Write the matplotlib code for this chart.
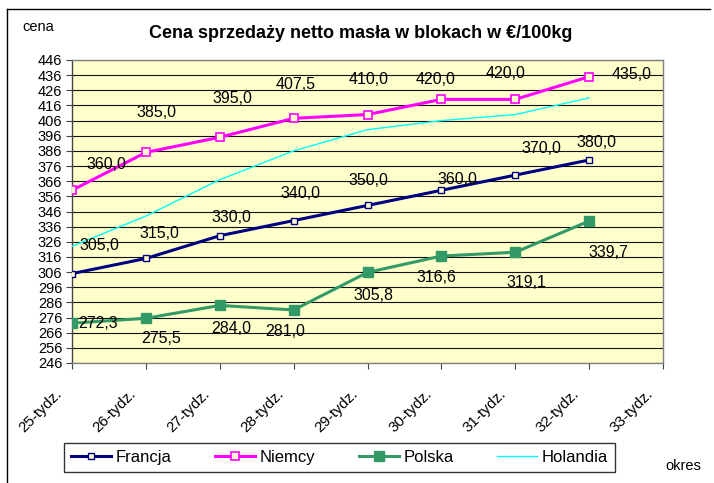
"""
Cena sprzedazy netto masla w blokach - wykres liniowy (tygodnie 25-33).
"""

import numpy as np
import matplotlib
matplotlib.use('Agg')
import matplotlib.pyplot as plt
from matplotlib.lines import Line2D
from matplotlib.transforms import ScaledTranslation

matplotlib.rc('font', family='Liberation Sans', size=10.5)

# data
weeks = ['25-tydz.', '26-tydz.', '27-tydz.', '28-tydz.', '29-tydz.',
         '30-tydz.', '31-tydz.', '32-tydz.', '33-tydz.']
francja = [305.0, 315.0, 330.0, 340.0, 350.0, 360.0, 370.0, 380.0]
niemcy = [360.0, 385.0, 395.0, 407.5, 410.0, 420.0, 420.0, 435.0]
polska = [272.3, 275.5, 284.0, 281.0, 305.8, 316.6, 319.1, 339.7]
holandia = [323.0, 343.0, 367.0, 386.0, 400.0, 406.0, 410.0, 421.0]

# label offsets in pixels (dx, dy with dy pointing down)
off_francja = [(27, -28), (14, -25), (12, -18), (7, -27), (1, -25), (16, -11), (26, -27), (7, -17)]
off_niemcy = [(34, -26), (11, -40), (13, -39), (2, -34), (1, -35), (-6, -20), (-10, -26), (42, -2)]
off_polska = [(26, 0), (15, 20), (12, 23), (-8, 22), (6, 23), (-5, 21), (11, 30), (19, 31)]

bg = '#FFFFCC'


def fmt(v):
    return ('%.1f' % v).replace('.', ',')


def add_labels(ax, x, values, offsets):
    for xi, v, (dx, dy) in zip(x, values, offsets):
        ax.annotate(fmt(v), (xi, v), xytext=(dx, -dy), textcoords='offset pixels',
                    ha='center', va='center', fontsize=11.5, color='black', zorder=6)


fig = plt.figure(figsize=(7.14, 4.83), dpi=100, facecolor='white')
ax = fig.add_axes([72 / 714, 1 - 363 / 483, (663 - 72) / 714, (363 - 60) / 483])
ax.set_facecolor(bg)

x = np.arange(len(francja))

# horizontal grid
ax.set_ylim(246, 446)
ax.set_yticks(np.arange(246, 447, 10))
ax.yaxis.grid(True, color='#111111', linewidth=0.8)
ax.set_axisbelow(True)

ax.plot(x, holandia, color='#00FFFF', linewidth=1.0, label='Holandia', zorder=3)
ax.plot(x, francja, color='#000080', linewidth=2.2, marker='s', markersize=3.8,
        markerfacecolor=bg, markeredgecolor='#000080', markeredgewidth=1.0,
        label='Francja', zorder=4)
ax.plot(x, niemcy, color='#FF00FF', linewidth=2.2, marker='s', markersize=6,
        markerfacecolor=bg, markeredgecolor='#FF00FF', markeredgewidth=1.2,
        label='Niemcy', zorder=4)
ax.plot(x, polska, color='#339966', linewidth=2.2, marker='s', markersize=6.5,
        markerfacecolor='#339966', markeredgecolor='#339966',
        label='Polska', zorder=4)

add_labels(ax, x, francja, off_francja)
add_labels(ax, x, niemcy, off_niemcy)
add_labels(ax, x, polska, off_polska)

ax.set_xlim(0, len(weeks) - 1)
ax.set_xticks(np.arange(len(weeks)))
ax.set_xticklabels(weeks, rotation=45, ha='right', va='top', fontsize=11)
ax.tick_params(axis='x', length=4, pad=13, width=0.8, color='#444444')
ax.tick_params(axis='y', length=4, pad=3, width=0.8, color='#444444')
for lab in ax.get_xticklabels():
    lab.set_transform(lab.get_transform() + ScaledTranslation(-7 / 100, 0, fig.dpi_scale_trans))

for side in ['top', 'right', 'bottom']:
    ax.spines[side].set_color('#808080')
    ax.spines[side].set_linewidth(1.0)
ax.spines['left'].set_color('#444444')
ax.spines['left'].set_linewidth(1.0)

# texts around the plot
fig.text(361 / 714, 1 - 34 / 483, 'Cena sprzedaży netto masła w blokach w €/100kg',
         ha='center', va='center', fontsize=13, fontweight='bold')
fig.text(22 / 714, 1 - 27 / 483, 'cena', ha='left', va='center', fontsize=10.5)
fig.text(665 / 714, 1 - 466 / 483, 'okres', ha='left', va='center', fontsize=10.5)

# outer frame (left and top only visible)
fig.add_artist(Line2D([7 / 714, 7 / 714], [0, 1 - 9 / 483], transform=fig.transFigure,
                      color='black', linewidth=1.0))
fig.add_artist(Line2D([7 / 714, 710 / 714], [1 - 9 / 483, 1 - 9 / 483], transform=fig.transFigure,
                      color='black', linewidth=1.0))

handles, labels = ax.get_legend_handles_labels()
order = [labels.index(n) for n in ['Francja', 'Niemcy', 'Polska', 'Holandia']]
leg = fig.legend([handles[i] for i in order], [labels[i] for i in order],
                 loc='center', ncol=4, mode='expand',
                 bbox_to_anchor=(64 / 714, 1 - 475 / 483, (615 - 64) / 714, 35 / 483),
                 fontsize=12, frameon=True, fancybox=False, shadow=False,
                 handlelength=2.4, handletextpad=0.3, borderaxespad=0, borderpad=0.4)
leg.get_frame().set_edgecolor('black')
leg.get_frame().set_linewidth(1.0)

plt.savefig('out.png', dpi=100)
plt.close()
